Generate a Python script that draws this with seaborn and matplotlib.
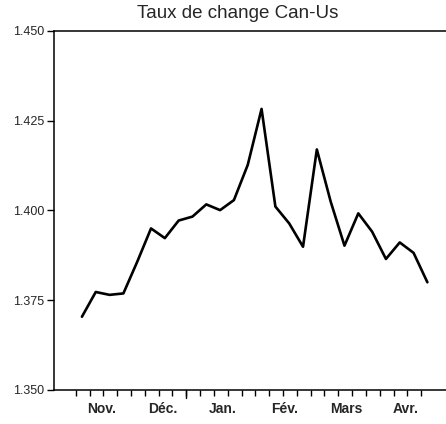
import pandas as pd
import matplotlib.pyplot as plt
import seaborn as sns
import numpy as np

# Données hebdomadaires (taux de change Can-US)
semaines = list(range(26))
taux = [1.3704, 1.3773, 1.3765, 1.3769, 1.3857, 1.3950, 1.3923, 1.3972,
        1.3983, 1.4017, 1.4001, 1.4029, 1.4127, 1.4283, 1.4011, 1.3964,
        1.3899, 1.4170, 1.4025, 1.3902, 1.3992, 1.3941, 1.3865, 1.3911,
        1.3882, 1.3800]
mois = ['Nov.', 'Déc.', 'Jan.', 'Fév.', 'Mars', 'Avr.']
mois_pos = [1.88, 6.33, 10.67, 15.1, 19.6, 23.9]
y_ticks = [1.350, 1.375, 1.400, 1.425, 1.450]
y_labels = ['1.350', '1.375', '1.400', '1.425', '1.450']

df = pd.DataFrame({'Semaine': np.array(semaines) + 0.45, 'Taux': taux})

sns.set_style("ticks")
plt.rcParams['font.family'] = ['Liberation Sans', 'DejaVu Sans']

fig = plt.figure(figsize=(4.46, 4.24), dpi=100)
ax = fig.add_axes([0.1211, 0.0802, 0.879, 0.8467])

sns.lineplot(data=df, x='Semaine', y='Taux', color='black', linewidth=1.9, ax=ax)

ax.set_xlim(-1.57, 26.8)
ax.set_ylim(1.350, 1.450)
ax.set_xlabel('')
ax.set_ylabel('')

# graduations hebdomadaires
ax.set_xticks(semaines)
ax.set_xticklabels([])
ax.tick_params(axis='x', which='major', direction='out', length=4, width=1, color='black')
# trait plus long (semaine 8)
ax.plot([8, 8], [0, -0.022], transform=ax.get_xaxis_transform(), color='black',
        linewidth=1, clip_on=False)
# libellés des mois (sans trait)
ax.set_xticks(mois_pos, minor=True)
ax.set_xticklabels(mois, minor=True, fontsize=10, fontweight='bold')
ax.tick_params(axis='x', which='minor', length=0, pad=9)

ax.set_yticks(y_ticks)
ax.set_yticklabels(y_labels, fontsize=9)
ax.tick_params(axis='y', direction='out', length=5, width=1, color='black', pad=2)

ax.spines['right'].set_visible(False)
for s in ['left', 'top', 'bottom']:
    ax.spines[s].set_linewidth(1.1)
    ax.spines[s].set_color('black')

fig.text(238 / 446, 1 - 13 / 424, 'Taux de change Can-Us', ha='center', va='center',
         fontsize=13.5)

fig.savefig('out.png', dpi=100)
